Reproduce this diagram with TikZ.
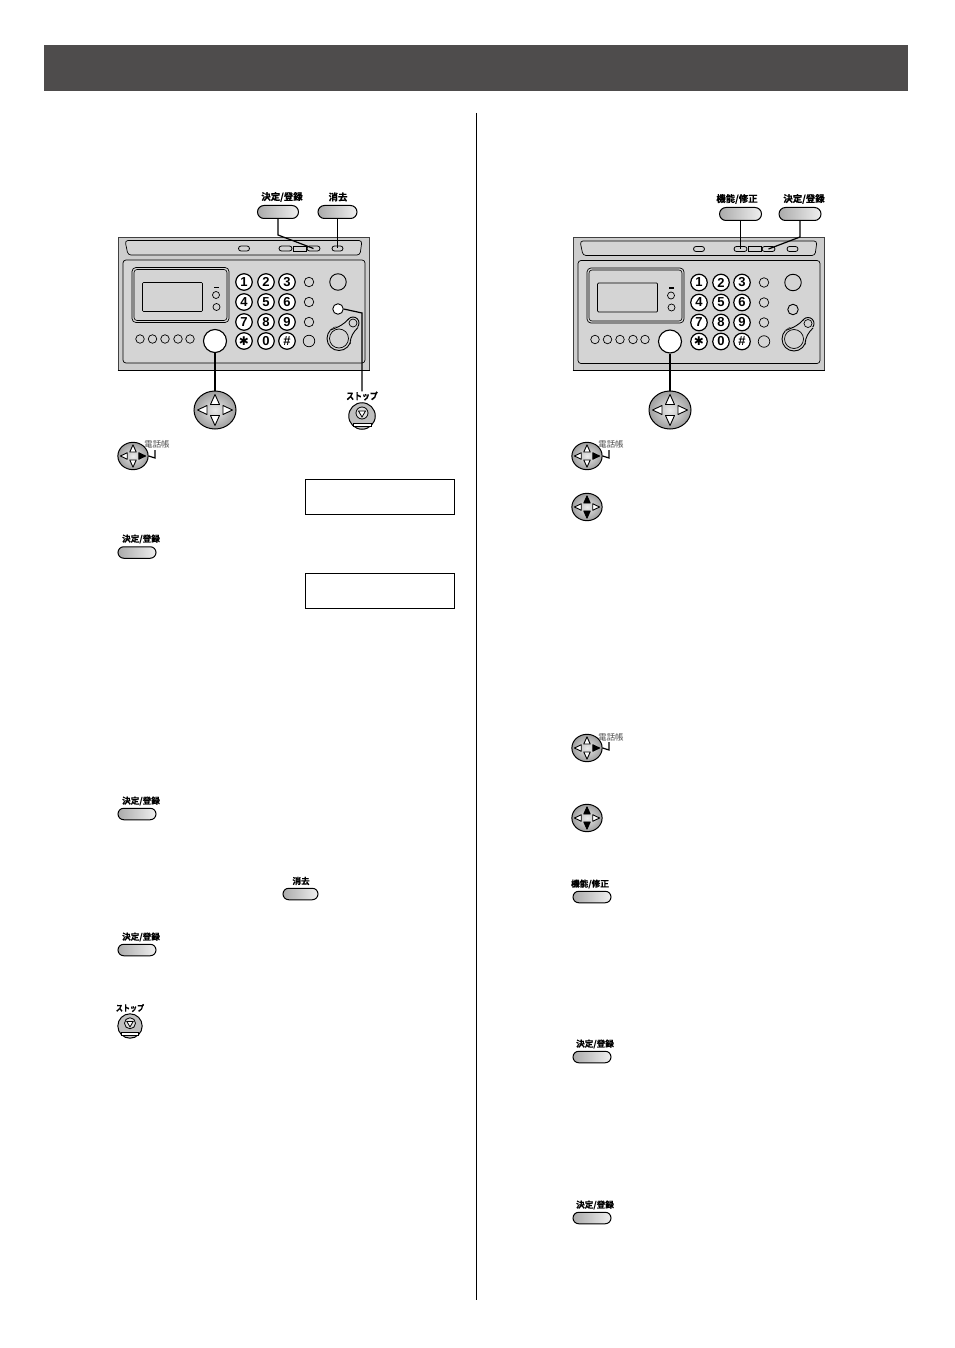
\documentclass[tikz,border=0pt]{standalone}
\usepackage{fontspec}
\setmainfont{Liberation Sans}
\newfontfamily\cjk{Noto Sans CJK JP}[BoldFont={Noto Sans CJK JP Bold},BoldFeatures={FakeBold=0.6}]
\newfontfamily\cjknarrow{Noto Sans CJK JP Bold}[FakeStretch=0.82,FakeBold=0.6]
\newfontfamily\symf{DejaVu Sans}
\usetikzlibrary{shapes.misc,shapes.geometric,calc}
\definecolor{hdr}{HTML}{4E4C4C}
\definecolor{pnl}{HTML}{D4D4D4}
\definecolor{pnltop}{HTML}{CDCDCD}
\tikzset{
 lbl/.style={font=\cjk\bfseries\fontsize{9.4}{10}\selectfont,inner sep=0pt,text=black},
 lblsm/.style={font=\cjk\bfseries\fontsize{8.6}{9}\selectfont,inner sep=0pt,text=black},
 lblstop/.style={font=\cjknarrow\fontsize{9.6}{10}\selectfont,inner sep=0pt,text=black},
 lblstopsm/.style={font=\cjknarrow\fontsize{8.6}{9}\selectfont,inner sep=0pt,text=black},
 lblthin/.style={font=\cjk\fontsize{8.4}{9}\selectfont,inner sep=0pt,text=black!70},
 softkey/.style={rounded rectangle,draw=black,line width=1pt,left color=black!33,middle color=black!27,right color=black!6,inner sep=0pt,minimum width=38pt,minimum height=11.5pt},
 softkeybig/.style={softkey,minimum width=41pt,minimum height=13pt},
 conn/.style={draw=black,line width=1.2pt},
 numkey/.style={circle,draw=black,line width=1.2pt,fill=white,inner sep=0pt,minimum size=16.5pt,font=\bfseries\fontsize{13}{13}\selectfont},
 rnd/.style={circle,draw=black,line width=0.7pt,fill=pnl,inner sep=0pt},
 strip/.style={rounded rectangle,draw=black,line width=0.8pt,fill=pnl,inner sep=0pt,minimum height=5pt},
 dispbox/.style={rectangle,draw=black,line width=0.6pt,fill=white,inner sep=0pt,minimum width=149.5pt,minimum height=35pt},
 tri/.style={draw=black,line width=0.9pt,fill=white,line join=round},
 trion/.style={draw=black,line width=0.9pt,fill=black,line join=round},
}
% name, x, y, scale, style of left, right, up, down triangles
\newcommand{\navpad}[8]{%
 \node[ellipse,draw=black,line width=1pt,inner color=black!8,outer color=black!38,inner sep=0pt,minimum width=#4*42pt,minimum height=#4*38pt] (#1) at (#2,#3) {};
 \begin{scope}[shift={(#2,#3)},scale=#4]
  \path[#5] (-17.5,0)--(-8,-4.5)--(-8,4.5)--cycle;
  \path[#6] (17.5,0)--(8,-4.5)--(8,4.5)--cycle;
  \path[#7] (0,-15.5)--(-4.5,-5.5)--(4.5,-5.5)--cycle;
  \path[#8] (0,15.5)--(-4.5,5.5)--(4.5,5.5)--cycle;
 \end{scope}}
\newcommand{\stoppad}[4]{%
 \node[circle,draw=black,line width=1pt,fill=black!25,inner sep=0pt,minimum size=#4*26.5pt] (#1) at (#2,#3) {};
 \begin{scope}[shift={(#2,#3)},scale=#4]
  \draw[line width=0.8pt,fill=black!12] (0,-3) circle (6);
  \draw[line width=0.8pt,fill=white] (-3.5,-5)--(3.5,-5)--(0,1)--cycle;
  \draw[line width=1pt,fill=white] (-9,7) rectangle (9,10);
 \end{scope}}
\newcommand{\faxpanel}[3]{%
 \begin{scope}[shift={(#2,#3)}]
  \node[rectangle,draw=black!75,line width=0.7pt,fill=pnltop,inner sep=0pt,minimum width=251.5pt,minimum height=133pt] (#1-body) at (243.75,303.5) {};
  \draw[black,line width=1.2pt] (#1-body.south west)--(#1-body.south east);
  \draw[line width=0.7pt,fill=pnl,rounded corners=3pt] (125,240.5)--(362,240.5)--(360,255)--(128,255)--cycle;
  \node[strip,minimum width=11pt] (#1-o) at (244,248.5) {};
  \node[strip,minimum width=13pt] (#1-f1) at (285.5,248.5) {};
  \node[rectangle,draw=black,line width=0.8pt,fill=pnl,inner sep=0pt,minimum width=13pt,minimum height=5pt] (#1-f2) at (299.5,248.5) {};
  \node[strip,minimum width=13pt] (#1-f3) at (313.5,248.5) {};
  \node[strip,minimum width=11pt] (#1-f4) at (337.5,248.5) {};
  \node[rectangle,rounded corners=3pt,draw=black,line width=0.7pt,fill=pnl,inner sep=0pt,minimum width=242pt,minimum height=103pt] (#1-inner) at (244,311.5) {};
  \node[rectangle,rounded corners=4pt,draw=black,line width=0.7pt,fill=pnl,inner sep=0pt,minimum width=97pt,minimum height=55pt] (#1-lcdo) at (180.5,295) {};
  \node[rectangle,rounded corners=3pt,draw=black,line width=0.6pt,fill=pnl,inner sep=0pt,minimum width=93pt,minimum height=51pt] (#1-lcdm) at (180.5,295) {};
  \node[rectangle,rounded corners=1pt,draw=black,line width=0.7pt,fill=pnl,inner sep=0pt,minimum width=60pt,minimum height=29pt] (#1-lcd) at (172.5,297) {};
  \fill[black] (214,286.5) rectangle (218.5,288);
  \node[rnd,minimum size=7pt] (#1-s1) at (216,295) {};
  \node[rnd,minimum size=7pt] (#1-s2) at (216.5,307) {};
  \foreach \t/\x/\y/\n in {1/244/282/a,2/266/282/b,3/287/282/c,4/244/302/d,5/266/302/e,6/287/302/f,7/244/322/g,8/266/322/h,9/287/322/i,0/266/341/k}
    \node[numkey] (#1-\n) at (\x,\y) {\t};
  \node[numkey,font=\symf\bfseries\fontsize{12}{12}\selectfont] (#1-j) at (244,341) {✱};
  \node[numkey] (#1-l) at (287,341) {\#};
  \foreach \y/\n in {282/a,302/b,322/c}
    \node[rnd,minimum size=9.5pt] (#1-r\n) at (309,\y) {};
  \node[rnd,minimum size=11.5pt] (#1-rd) at (309,341) {};
  \foreach \x/\n in {140/a,152.5/b,165/c,178/d,190/e}
    \node[rnd,minimum size=8.5pt] (#1-m\n) at (\x,339) {};
  \node[rnd,minimum size=16.5pt,line width=0.9pt] (#1-big) at (338,282) {};
  \node[rnd,minimum size=10.5pt,line width=0.9pt,fill=#1col] (#1-small) at (338,309) {};
  \node[circle,draw=black,line width=0.9pt,fill=pnl,inner sep=0pt,minimum size=24pt] (#1-ring) at (339,338.5) {};
  \node[circle,draw=black,line width=0.9pt,fill=pnl,inner sep=0pt,minimum size=12pt] (#1-ringo) at (353,323) {};
  \fill[pnl] (330,330) -- (348,320) -- (358,327) -- (350,343) -- cycle;
  \draw[line width=0.9pt] (330.5,330) .. controls (340,326.5) and (344,324) .. (348,319.5);
  \draw[line width=0.9pt] (350,344) .. controls (350.5,336) and (353.5,332) .. (358,327.5);
  \node[circle,draw=black,line width=0.7pt,fill=pnl,inner sep=0pt,minimum size=19pt] (#1-ringi) at (339,338.5) {};
  \node[circle,draw=black,line width=0.7pt,fill=pnl,inner sep=0pt,minimum size=8pt] (#1-rings) at (353,323) {};
  \node[circle,draw=black,line width=1.1pt,fill=white,inner sep=0pt,minimum size=23pt] (#1-ok) at (215,341) {};
 \end{scope}}
\colorlet{Lcol}{white}
\colorlet{Rcol}{pnl}
\begin{document}
\begin{tikzpicture}[x=1pt,y=-1pt]
\useasboundingbox (0,0) rectangle (954,1348);
\fill[white] (0,0) rectangle (954,1348);
\node[rectangle,fill=hdr,inner sep=0pt,minimum width=864pt,minimum height=46pt] (header) at (476,68) {};
\coordinate (divt) at (476.5,113);
\coordinate (divb) at (476.5,1300);
\draw[black,line width=0.8pt] (divt)--(divb);

% LEFT panel
\faxpanel{L}{0}{0}
\node[lbl] (lblA) at (282,197) {決定/登録};
\node[softkeybig] (btnA) at (278,212) {};
\node[lbl] (lblB) at (338,197) {消去};
\node[softkeybig,minimum width=39pt] (btnB) at (337.5,212) {};
\navpad{navL}{215}{410}{1}{tri}{tri}{tri}{tri}
\stoppad{stopL}{362}{416}{1}
\node[lblstop] (lblS) at (362,396) {ストップ};
\coordinate (a1) at (278,235);
\coordinate (s1) at (362,313);
\draw[conn] (btnA.south)--(a1)--(L-f3.center);
\draw[conn] (btnB.south)--(L-f4.center);
\draw[conn] (L-ok.south)--(navL.north);
\draw[conn] (L-small.east)--(s1)--(lblS.north);

% left steps
\navpad{n1}{133}{456}{0.72}{tri}{trion}{tri}{tri}
\node[lblthin] (t1) at (157,444) {電話帳};
\coordinate (h1) at (155,458);
\coordinate (h1t) at (155,450);
\draw[conn] (n1.east)--(h1)--(h1t);
\node[dispbox] (d1) at (380,496.5) {};
\node[lblsm] (l2) at (141,539) {決定/登録};
\node[softkey] (b2) at (137,552.5) {};
\node[dispbox] (d2) at (380,591) {};
\node[lblsm] (l3) at (141,801) {決定/登録};
\node[softkey] (b3) at (137,814) {};
\node[lblsm] (l4) at (301,881) {消去};
\node[softkey,minimum width=35pt] (b4) at (300.5,894) {};
\node[lblsm] (l5) at (141,937) {決定/登録};
\node[softkey] (b5) at (137,950) {};
\node[lblstopsm] (l6) at (130,1008) {ストップ};
\stoppad{s6}{130}{1026}{0.92}

% RIGHT panel
\faxpanel{R}{455}{0.5}
\node[lbl] (lblC) at (737,199) {機能/修正};
\node[softkeybig,minimum width=42pt] (btnC) at (740.5,214) {};
\node[lbl] (lblD) at (804,199) {決定/登録};
\node[softkeybig,minimum width=42pt] (btnD) at (800,214) {};
\navpad{navR}{670}{410}{1}{tri}{tri}{tri}{tri}
\coordinate (c1) at (800,237);
\draw[conn] (btnC.south)--(R-f1.center);
\draw[conn] (btnD.south)--(c1)--(R-f3.center);
\draw[conn] (R-ok.south)--(navR.north);

% right steps
\navpad{n7}{587}{456}{0.72}{tri}{trion}{tri}{tri}
\node[lblthin] (t7) at (611,444) {電話帳};
\coordinate (h7) at (609,458);
\coordinate (h7t) at (609,450);
\draw[conn] (n7.east)--(h7)--(h7t);
\navpad{n8}{587}{507}{0.72}{tri}{tri}{trion}{trion}
\navpad{n9}{587}{748}{0.72}{tri}{trion}{tri}{tri}
\node[lblthin] (t9) at (611,737) {電話帳};
\coordinate (h9) at (609,750);
\coordinate (h9t) at (609,742);
\draw[conn] (n9.east)--(h9)--(h9t);
\navpad{n10}{587}{818}{0.72}{tri}{tri}{trion}{trion}
\node[lblsm] (l11) at (590,884) {機能/修正};
\node[softkey] (b11) at (592,897) {};
\node[lblsm] (l12) at (595,1044) {決定/登録};
\node[softkey] (b12) at (592,1057) {};
\node[lblsm] (l13) at (595,1205) {決定/登録};
\node[softkey] (b13) at (592,1218) {};
\end{tikzpicture}
\end{document}
